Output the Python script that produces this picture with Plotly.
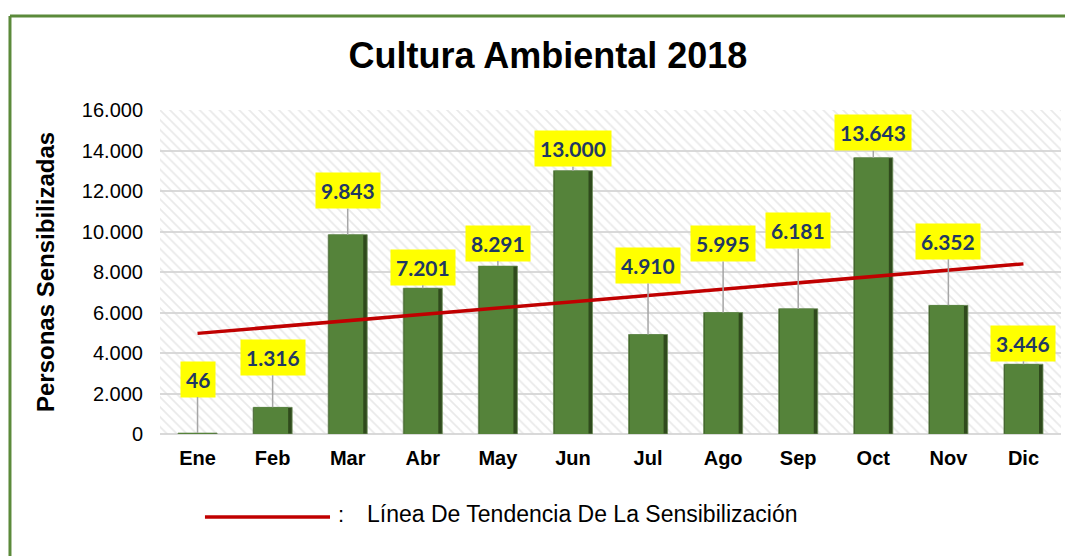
import numpy as np
import plotly.graph_objects as go

MONTHS = ["Ene", "Feb", "Mar", "Abr", "May", "Jun", "Jul", "Ago", "Sep", "Oct", "Nov", "Dic"]
PERSONAS = [46, 1316, 9843, 7201, 8291, 13000, 4910, 5995, 6181, 13643, 6352, 3446]
Y_TICKS = [0, 2000, 4000, 6000, 8000, 10000, 12000, 14000, 16000]
TITLE = "Cultura Ambiental 2018"
Y_TITLE = "Personas Sensibilizadas"
LEGEND_TEXT = "Línea De Tendencia De La Sensibilización"

# label offsets in pixels (style only)
LABEL_OFFSETS = [-54, -50, -44, -21, -23, -22, -69, -69, -78, -25, -64, -21]

Y_MAX = Y_TICKS[-1]

# linear trend
xi = np.arange(1, len(PERSONAS) + 1)
slope, intercept = np.polyfit(xi, PERSONAS, 1)
trend = slope * xi + intercept


def fmt(v):
    return f"{v:,}".replace(",", ".")


FONT = "Liberation Sans, Arial"

fig = go.Figure()

# hatched plot background
fig.add_trace(go.Bar(
    x=MONTHS, y=[Y_MAX] * len(MONTHS), width=1,
    marker=dict(color="rgba(0,0,0,0)", line=dict(width=0),
                pattern=dict(shape="\\", fgcolor="#d4d4d4", bgcolor="rgba(0,0,0,0)",
                             size=7, solidity=0.25)),
    hoverinfo="skip", showlegend=False))

# bars: outer dark + inner lighter for a bevel feel
fig.add_trace(go.Bar(
    x=MONTHS, y=PERSONAS, width=0.52, offset=-0.26,
    marker=dict(color="#2f4a1c", line=dict(color="#6f8f5a", width=0.8)),
    showlegend=False, hoverinfo="skip"))
fig.add_trace(go.Bar(
    x=MONTHS, y=PERSONAS, width=0.455, offset=-0.248,
    marker=dict(color="#55833a", line=dict(width=0)),
    showlegend=False, name="Personas"))

# trend line
fig.add_trace(go.Scatter(
    x=MONTHS, y=trend, mode="lines",
    line=dict(color="#c00000", width=3.5),
    showlegend=False, hoverinfo="skip"))

annotations = []
for m, v, off in zip(MONTHS, PERSONAS, LABEL_OFFSETS):
    annotations.append(dict(
        x=m, y=v, xref="x", yref="y", text="<b>" + fmt(v) + "</b>",
        showarrow=True, arrowhead=0, arrowwidth=1.5, arrowcolor="#a6a6a6",
        ax=0, ay=off, standoff=0,
        bgcolor="#ffff00", borderpad=5,
        font=dict(family="Lato", size=21, color="#1f3864")))

# y-axis title
annotations.append(dict(x=-0.1276, y=0.5, xref="paper", yref="paper", text="<b>" + Y_TITLE + "</b>",
                        showarrow=False, textangle=-90, xanchor="center", yanchor="middle",
                        font=dict(family=FONT, size=24, color="#000000")))

# legend (manual)
annotations.append(dict(x=0.1954, y=-0.248, xref="paper", yref="paper", text=":",
                        showarrow=False, xanchor="left", yanchor="middle",
                        font=dict(family=FONT, size=22, color="#000000")))
annotations.append(dict(x=0.2275, y=-0.248, xref="paper", yref="paper", text=LEGEND_TEXT,
                        showarrow=False, xanchor="left", yanchor="middle",
                        font=dict(family=FONT, size=23, color="#000000")))

shapes = [
    # legend line
    dict(type="line", xref="paper", yref="paper", x0=0.0499, x1=0.1887, y0=-0.256, y1=-0.256,
         line=dict(color="#c00000", width=3.5)),
    # green frame (left + top)
    dict(type="line", xref="paper", yref="paper", x0=-0.1665, x1=-0.1665, y0=-0.5, y1=1.290,
         line=dict(color="#5b8a3a", width=3)),
    dict(type="line", xref="paper", yref="paper", x0=-0.1665, x1=1.05, y0=1.290, y1=1.290,
         line=dict(color="#5b8a3a", width=3)),
]

fig.update_layout(
    width=1065, height=548,
    margin=dict(l=152, r=12, t=102, b=122),
    paper_bgcolor="white", plot_bgcolor="white",
    barmode="overlay",
    separators=",.",
    title=dict(text="<b>" + TITLE + "</b>", x=0.507, xanchor="center", y=0.914, yanchor="middle",
               xref="container", yref="container",
               font=dict(family=FONT, size=36, color="#000000")),
    xaxis=dict(showgrid=False, showline=False, ticks="", range=[-0.5, 11.5],
               ticklabelstandoff=10,
               tickfont=dict(family=FONT, size=20, color="#000000", weight="bold")),
    yaxis=dict(range=[0, Y_MAX], tickvals=Y_TICKS, tickformat=",d",
               showgrid=True, gridcolor="#d9d9d9", gridwidth=2,
               zeroline=True, zerolinecolor="#d9d9d9", zerolinewidth=2,
               showline=False, ticks="", ticklen=0, ticklabelstandoff=16,
               tickfont=dict(family=FONT, size=20, color="#000000")),
    annotations=annotations,
    shapes=shapes,
    showlegend=False,
)

fig.write_html("out.html")
